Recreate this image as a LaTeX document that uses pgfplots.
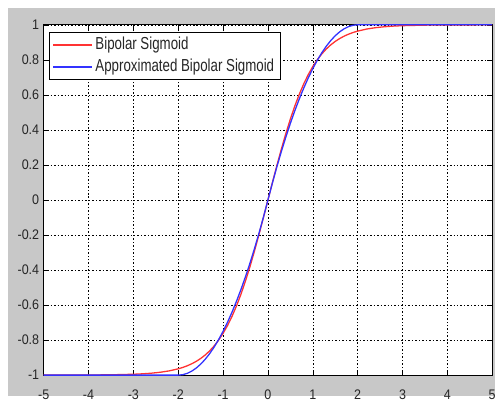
\documentclass[border=0pt]{standalone}
\usepackage{fontspec}
\setmainfont{Liberation Sans}
\newfontfamily\legfont[FakeStretch=0.765]{Liberation Sans}
\newfontfamily\tickfont[FakeStretch=0.9]{Liberation Sans}
\usepackage{pgfplots}
\pgfplotsset{compat=1.18}
\definecolor{bggray}{RGB}{200,200,200}
\definecolor{myred}{RGB}{255,50,50}
\definecolor{myblue}{RGB}{50,50,255}
\begin{document}
\begin{tikzpicture}[x=1pt,y=1pt]
\fill[white] (0,0) rectangle (499,399);
\fill[bggray] (8,0) rectangle (499,391);
\begin{axis}[
  at={(44pt,21pt)}, anchor=south west, scale only axis,
  width=452pt, height=353pt,
  xmin=-5, xmax=5, ymin=-1, ymax=1,
  xtick={-5,-4,-3,-2,-1,0,1,2,3,4,5},
  xticklabels={-5,-4,-3,-2,-1,0,1,2,3,4,5},
  ytick={-1,-0.8,-0.6,-0.4,-0.2,0,0.2,0.4,0.6,0.8,1},
  yticklabels={-1,-0.8,-0.6,-0.4,-0.2,0,0.2,0.4,0.6,0.8,1},
  tick label style={font=\tickfont\fontsize{14}{16}\selectfont, text=black!85},
  xticklabel style={yshift=-11pt},
  yticklabel style={xshift=-1pt},
  grid=major,
  major grid style={black, dash pattern=on 1.5pt off 2pt, line width=0.6pt},
  tick align=inside, major tick length=5pt,
  tick style={black, line width=0.6pt},
  axis line style={black, line width=0.8pt},
  axis background/.style={fill=white},
  legend cell align=left,
  legend style={at={(rel axis cs:0,1)}, anchor=north west, xshift=5.5pt, yshift=-7pt,
    draw=black, line width=0.8pt, fill=white, font=\legfont\fontsize{17.5}{19}\selectfont,
    inner xsep=3pt, inner ysep=2pt, row sep=0pt,
    nodes={text height=12.5pt, text depth=4pt, inner ysep=2.75pt, inner xsep=3pt, text=black!85}},
  legend image code/.code={\draw[#1, line width=1.3pt] (0pt,0pt) -- (39pt,0pt);},
]
\addplot[myred, line width=1.3pt] coordinates {
(-5,-0.99991) (-4,-0.99933) (-3.5,-0.99818) (-3,-0.99505) (-2.8,-0.99263) (-2.6,-0.98903)
(-2.4,-0.98367) (-2.2,-0.97574) (-2,-0.96403) (-1.9,-0.95624) (-1.8,-0.94681) (-1.7,-0.93541)
(-1.6,-0.92167) (-1.5,-0.90515) (-1.4,-0.88535) (-1.3,-0.86172) (-1.2,-0.83365) (-1.1,-0.80050)
(-1,-0.76159) (-0.9,-0.71630) (-0.8,-0.66404) (-0.7,-0.60437) (-0.6,-0.53705) (-0.5,-0.46212)
(-0.4,-0.37995) (-0.3,-0.29131) (-0.2,-0.19738) (-0.1,-0.09967) (0,0)
(0.1,0.09967) (0.2,0.19738) (0.3,0.29131) (0.4,0.37995) (0.5,0.46212) (0.6,0.53705)
(0.7,0.60437) (0.8,0.66404) (0.9,0.71630) (1,0.76159) (1.1,0.80050) (1.2,0.83365)
(1.3,0.86172) (1.4,0.88535) (1.5,0.90515) (1.6,0.92167) (1.7,0.93541) (1.8,0.94681)
(1.9,0.95624) (2,0.96403) (2.2,0.97574) (2.4,0.98367) (2.6,0.98903) (2.8,0.99263)
(3,0.99505) (3.5,0.99818) (4,0.99933) (5,0.99991)
};
\addlegendentry{Bipolar Sigmoid}
\addplot[myblue, line width=1.3pt] coordinates {
(-5,-1) (-2,-1) (-1.9,-0.9975) (-1.8,-0.99) (-1.7,-0.9775) (-1.6,-0.96) (-1.5,-0.9375)
(-1.4,-0.91) (-1.3,-0.8775) (-1.2,-0.84) (-1.1,-0.7975) (-1,-0.75) (-0.9,-0.6975)
(-0.8,-0.64) (-0.7,-0.5775) (-0.6,-0.51) (-0.5,-0.4375) (-0.4,-0.36) (-0.3,-0.2775)
(-0.2,-0.19) (-0.1,-0.0975) (0,0)
(0.1,0.0975) (0.2,0.19) (0.3,0.2775) (0.4,0.36) (0.5,0.4375) (0.6,0.51) (0.7,0.5775)
(0.8,0.64) (0.9,0.6975) (1,0.75) (1.1,0.7975) (1.2,0.84) (1.3,0.8775) (1.4,0.91)
(1.5,0.9375) (1.6,0.96) (1.7,0.9775) (1.8,0.99) (1.9,0.9975) (2,1) (5,1)
};
\addlegendentry{Approximated Bipolar Sigmoid}
\end{axis}
\end{tikzpicture}
\end{document}
